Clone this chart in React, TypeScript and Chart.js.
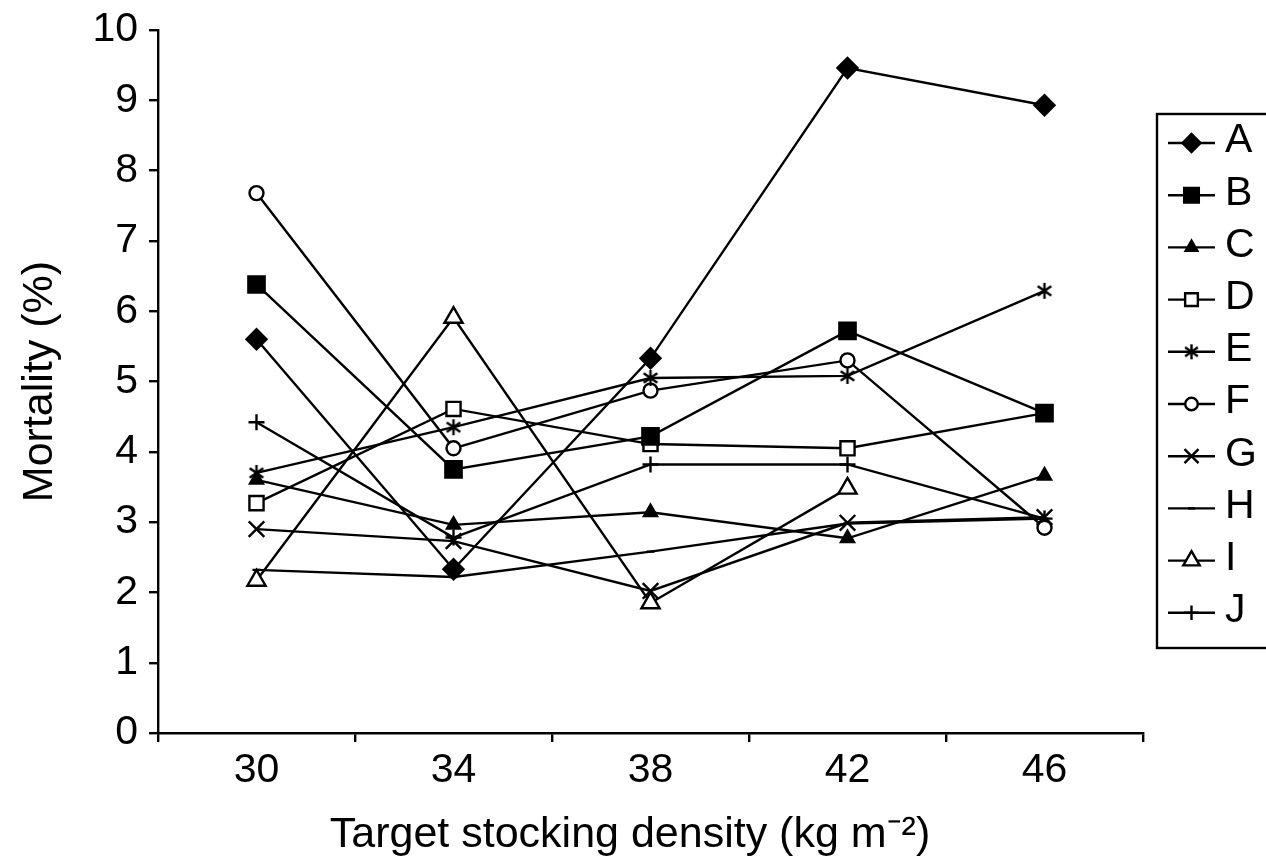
import React, { useEffect, useRef } from "react";
import { Chart, registerables } from "chart.js";
import { drawPoint } from "chart.js/helpers";

Chart.register(...registerables);

const categories = ["30", "34", "38", "42", "46"];
const seriesNames = ["A", "B", "C", "D", "E", "F", "G", "H", "I", "J"];
const valuesA = [5.6, 2.33, 5.33, 9.46, 8.93];
const valuesB = [6.38, 3.75, 4.22, 5.72, 4.55];
const valuesC = [3.6, 2.96, 3.14, 2.77, 3.66];
const valuesD = [3.27, 4.61, 4.11, 4.05, 4.55];
const valuesE = [3.7, 4.35, 5.05, 5.08, 6.29];
const valuesF = [7.68, 4.05, 4.87, 5.3, 2.92];
const valuesG = [2.9, 2.73, 2.02, 2.99, 3.07];
const valuesH = [2.32, 2.22, 2.58, 2.98, 3.05];
const valuesI = [2.17, 5.91, 1.85, 3.48, null];
const valuesJ = [4.42, 2.78, 3.82, 3.82, 3.05];
const yTicks = [0, 1, 2, 3, 4, 5, 6, 7, 8, 9, 10];
const xTitle = "Target stocking density (kg m\u207B\u00B2)";
const yTitle = "Mortality (%)";

const FONT = "'Liberation Sans', Arial, Helvetica, sans-serif";
const LW = 2.4;

function makeStar(size: number): HTMLCanvasElement {
  const c = document.createElement("canvas");
  c.width = size;
  c.height = size;
  const ctx = c.getContext("2d")!;
  ctx.strokeStyle = "#000";
  ctx.lineWidth = 2.4;
  const h = size / 2;
  const r = size / 2 - 1;
  ctx.beginPath();
  ctx.moveTo(h, h - r);
  ctx.lineTo(h, h + r);
  ctx.moveTo(h - r * 0.85, h - r * 0.6);
  ctx.lineTo(h + r * 0.85, h + r * 0.6);
  ctx.moveTo(h - r * 0.85, h + r * 0.6);
  ctx.lineTo(h + r * 0.85, h - r * 0.6);
  ctx.stroke();
  return c;
}

export default function App() {
  const ref = useRef<HTMLCanvasElement | null>(null);

  useEffect(() => {
    if (!ref.current) return;
    const star = makeStar(18);
    const starSmall = makeStar(17);
    const styles: any[] = [
      { pointStyle: "rectRot", radius: 10, fill: "#000" },
      { pointStyle: "rect", radius: 11.5, fill: "#000" },
      { pointStyle: "triangle", radius: 7.5, fill: "#000" },
      { pointStyle: "rect", radius: 10, fill: "#fff" },
      { pointStyle: star, legendStyle: starSmall, radius: 8, fill: "#000" },
      { pointStyle: "circle", radius: 7, fill: "#fff" },
      { pointStyle: "crossRot", radius: 11, fill: "#000" },
      { pointStyle: "line", radius: 4, fill: "#000" },
      { pointStyle: "triangle", radius: 10.5, fill: "#fff" },
      { pointStyle: "cross", radius: 8, fill: "#000" },
    ];
    const allValues = [valuesA, valuesB, valuesC, valuesD, valuesE, valuesF, valuesG, valuesH, valuesI, valuesJ];

    const datasets = seriesNames.map((name, i) => ({
      label: name,
      data: allValues[i],
      borderColor: "#000",
      borderWidth: LW,
      pointStyle: styles[i].pointStyle,
      pointRadius: styles[i].radius,
      pointBackgroundColor: styles[i].fill,
      pointBorderColor: "#000",
      pointBorderWidth: LW,
      fill: false,
      tension: 0,
      spanGaps: false,
    }));

    const decorPlugin = {
      id: "decor",
      afterDraw(chart: any) {
        const ctx = chart.ctx;
        ctx.save();
        // x-axis title
        ctx.fillStyle = "#000";
        ctx.font = `43px ${FONT}`;
        ctx.textAlign = "center";
        ctx.textBaseline = "alphabetic";
        ctx.fillText(xTitle, 630, 847);
        // legend box
        ctx.strokeStyle = "#000";
        ctx.lineWidth = LW;
        ctx.strokeRect(1157, 114, 130, 534);
        ctx.font = `41px ${FONT}`;
        ctx.textBaseline = "middle";
        ctx.textAlign = "left";
        chart.data.datasets.forEach((ds: any, i: number) => {
          const y = 143 + i * 52.2;
          ctx.strokeStyle = "#000";
          ctx.lineWidth = LW;
          ctx.beginPath();
          ctx.moveTo(1168, y);
          ctx.lineTo(1215, y);
          ctx.stroke();
          ctx.fillStyle = styles[i].fill;
          ctx.strokeStyle = "#000";
          ctx.lineWidth = LW;
          drawPoint(ctx, {
            pointStyle: styles[i].legendStyle || styles[i].pointStyle,
            rotation: 0,
            radius: styles[i].radius * 0.9,
            borderWidth: LW,
          } as any, 1191.5, y);
          ctx.fillStyle = "#000";
          ctx.fillText(ds.label, 1225, y - 2);
        });
        ctx.restore();
      },
    };

    const chart = new Chart(ref.current, {
      type: "line",
      data: { labels: categories, datasets },
      options: {
        animation: false,
        responsive: false,
        devicePixelRatio: 1,
        layout: { padding: { top: 30, right: 123, left: 0, bottom: 0 } },
        plugins: { legend: { display: false }, tooltip: { enabled: false } },
        scales: {
          x: {
            type: "category",
            offset: true,
            grid: {
              offset: true,
              drawOnChartArea: false,
              drawTicks: true,
              tickLength: 9,
              color: "#000",
              lineWidth: LW,
            },
            border: { display: true, color: "#000", width: LW },
            ticks: { color: "#000", font: { family: FONT, size: 41 }, padding: 4 },
            afterFit: (scale: any) => {
              scale.height = 132;
              scale.paddingLeft = 0;
              scale.paddingRight = 0;
            },
          },
          y: {
            min: 0,
            max: 10,
            afterBuildTicks: (scale: any) => {
              scale.ticks = yTicks.map((v) => ({ value: v }));
            },
            grid: {
              drawOnChartArea: false,
              drawTicks: true,
              tickLength: 9,
              color: "#000",
              lineWidth: LW,
            },
            border: { display: true, color: "#000", width: LW },
            ticks: { color: "#000", font: { family: FONT, size: 41 }, padding: 11 },
            title: {
              display: true,
              text: yTitle,
              color: "#000",
              font: { family: FONT, size: 43 },
              padding: { top: 14, bottom: 0 },
            },
            afterFit: (scale: any) => {
              scale.width = 158;
              scale.paddingTop = 0;
              scale.paddingBottom = 0;
            },
          },
        },
      },
      plugins: [decorPlugin],
    });
    return () => chart.destroy();
  }, []);

  return (
    <div style={{ position: "absolute", left: 0, top: 0, width: 1266, height: 865, background: "#fff" }}>
      <canvas ref={ref} width={1266} height={865} />
    </div>
  );
}
